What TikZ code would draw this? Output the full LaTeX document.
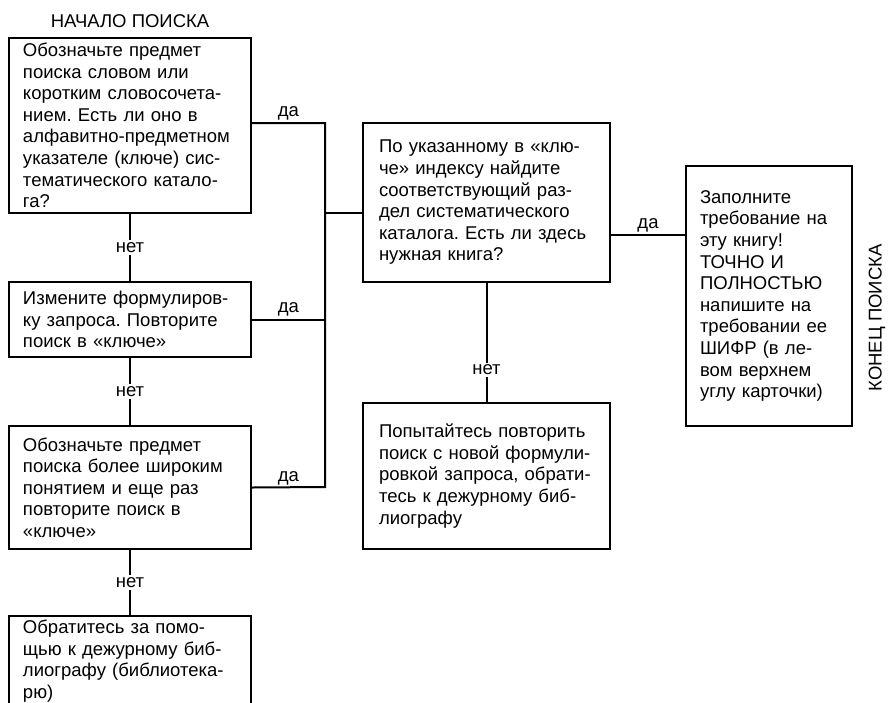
\documentclass[tikz,border=0pt]{standalone}
\usepackage{fontspec}
\setmainfont{Liberation Sans}
\usepackage{tikz}
\usetikzlibrary{positioning}
\usetikzlibrary{calc}
\frenchspacing

\tikzset{
  stepbox/.style={draw=black,line width=2pt,inner xsep=14pt,inner ysep=2pt,align=left,font=\fontsize{18.5}{21.6}\selectfont},
  wire/.style={draw=black,line width=2pt},
  answer/.style={font=\fontsize{18.5}{21.6}\selectfont,inner sep=2pt}
}

\begin{document}
\begin{tikzpicture}[x=1pt,y=-1pt]

\useasboundingbox (0,0) rectangle (888,702);

%LEFT
\node[answer](START-label)at(130,21){НАЧАЛО ПОИСКА};
\node[stepbox,text width=214pt,minimum width=242pt,minimum height=175pt](KW-box)at(130,125.5){Обозначьте предмет\\поиска словом или\\коротким словосочета-\\нием. Есть ли оно в\\алфавитно-предметном\\указателе (ключе) сис-\\тематического катало-\\га?};
\node[stepbox,text width=214pt,minimum width=242pt,minimum height=75pt](RF-box)at(130,319.5){Измените формулиров-\\ку запроса. Повторите\\поиск в «ключе»};
\node[stepbox,text width=214pt,minimum width=242pt,minimum height=123pt](BR-box)at(130,487.5){Обозначьте предмет\\поиска более широким\\понятием и еще раз\\повторите поиск в\\«ключе»};
\node[stepbox,text width=214pt,minimum width=242pt,minimum height=90pt](HLP-box)at(130,661){Обратитесь за помо-\\щью к дежурному биб-\\лиографу (библиотека-\\рю)};

%bus
\coordinate(bus-top)at(325,123);
\coordinate(bus-mid)at(325,213);
\coordinate(bus-bot)at(325,487);

\draw[wire](KW-box.east|-bus-top)--node[answer,above]{да}(bus-top)--(bus-bot)--(BR-box.east);
\draw[wire](RF-box.east)--node[answer,above]{да}(RF-box.east-|bus-top);
\path(BR-box.east)--node[answer,above]{да}(bus-bot);

\draw[wire](KW-box)--node[answer,fill=white]{нет}(RF-box);
\draw[wire](RF-box)--node[answer,fill=white]{нет}(BR-box);
\draw[wire](BR-box)--node[answer,fill=white]{нет}(HLP-box);

%RIGHT
\node[stepbox,inner xsep=16pt,text width=215pt,minimum width=247pt,minimum height=159pt](CAT-box)at(486.5,202.5){По указанному в «клю-\\че» индексу найдите\\соответствующий раз-\\дел систематического\\каталога. Есть ли здесь\\нужная книга?};
\node[stepbox,inner xsep=16pt,text width=215pt,minimum width=247pt,minimum height=146pt](RPT-box)at(486.5,476){Попытайтесь повторить\\поиск с новой формули-\\ровкой запроса, обрати-\\тесь к дежурному биб-\\лиографу};
\node[stepbox,text width=138pt,minimum width=166pt,minimum height=260pt](ORD-box)at(769,296){Заполните\\требование на\\эту книгу!\\ТОЧНО И\\ПОЛНОСТЬЮ\\напишите на\\требовании ее\\ШИФР (в ле-\\вом верхнем\\углу карточки)};
\node[answer,rotate=90](END-label)at(877,318){КОНЕЦ ПОИСКА};

\coordinate(yes-out)at(648,235);
\draw[wire](bus-mid)--(bus-mid-|CAT-box.west);
\draw[wire](CAT-box)--node[answer,fill=white,pos=0.73]{нет}(RPT-box);
\draw[wire](yes-out-|CAT-box.east)--node[answer,above]{да}(yes-out-|ORD-box.west);

\end{tikzpicture}
\end{document}
